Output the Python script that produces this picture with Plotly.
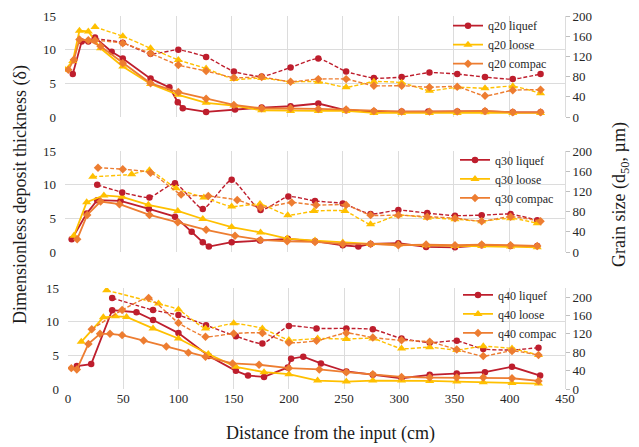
import plotly.graph_objects as go

# ---------------- data ----------------
# q20 panel
q20_liquef_thk_x = [7, 15, 21, 27, 42, 52, 77, 94, 101.5, 106, 127, 153, 177, 203, 228, 253, 278, 303, 327, 353, 378, 403, 428]
q20_liquef_thk = [6.4, 11.2, 11.2, 11.8, 9.7, 8.7, 5.7, 4.4, 2.2, 1.3, 0.75, 1.1, 1.4, 1.6, 2.0, 1.0, 0.8, 0.8, 0.8, 0.8, 0.85, 0.7, 0.7]
q20_loose_thk_x = [0, 7, 13, 21, 32, 52, 77, 102, 127, 152, 177, 203, 228, 253, 278, 303, 328, 353, 378, 403, 428]
q20_loose_thk = [7.0, 8.3, 12.8, 12.7, 10.2, 7.5, 4.9, 3.3, 2.1, 1.7, 1.0, 0.9, 0.9, 0.9, 0.6, 0.6, 0.6, 0.6, 0.7, 0.6, 0.6]
q20_compac_thk_x = [3, 8, 13, 21, 32, 52, 77, 102, 127, 152, 177, 203, 228, 253, 278, 303, 328, 353, 378, 403, 428]
q20_compac_thk = [7.0, 8.5, 11.5, 11.4, 10.5, 8.0, 5.0, 3.7, 2.7, 1.8, 1.3, 1.3, 1.2, 1.1, 0.9, 0.8, 0.8, 0.8, 0.9, 0.7, 0.7]
q20_grain_x = [27, 52, 77, 102, 127, 152, 177, 203, 228, 253, 278, 303, 328, 353, 378, 403, 428]
q20_liquef_d50 = [155, 147, 125, 133, 119, 90, 80, 98, 116, 90, 77, 79, 88, 85, 79, 75, 85]
q20_loose_d50 = [178, 160, 136, 113, 96, 75, 77, 70, 70, 59, 70, 68, 52, 59, 57, 61, 47]
q20_compac_d50 = [152, 146, 126, 103, 91, 78, 79, 70, 75, 75, 62, 62, 59, 60, 42, 53, 54]

# q30 panel
q30_liquef_thk_x = [6, 19.5, 29, 50, 75.5, 99, 114, 124, 129.5, 150, 175.5, 200.5, 225, 250, 264, 275, 300, 325, 351, 375, 401, 425]
q30_liquef_thk = [1.9, 5.7, 7.7, 7.6, 6.4, 5.25, 3.0, 1.45, 0.8, 1.45, 1.7, 1.95, 1.6, 1.0, 0.8, 1.2, 1.3, 0.75, 0.7, 1.0, 0.9, 0.9]
q30_loose_thk_x = [8, 19.5, 35, 51.5, 75, 101.5, 124, 150, 176, 200, 225, 250, 275, 300, 325, 351, 375, 401, 425]
q30_loose_thk = [2.4, 7.4, 8.4, 8.2, 7.0, 6.1, 4.9, 3.7, 2.9, 2.0, 1.7, 1.4, 1.2, 1.1, 1.0, 0.9, 0.9, 0.8, 0.7]
q30_compac_thk_x = [11, 20, 32, 49, 76, 101.5, 127, 153, 176, 200, 225, 250, 275, 300, 325, 351, 375, 401, 425]
q30_compac_thk = [1.9, 5.5, 7.5, 7.1, 5.5, 4.4, 3.3, 2.4, 1.8, 1.6, 1.5, 1.2, 1.2, 1.0, 1.1, 1.0, 1.1, 1.0, 0.9]
q30_liquef_d50_x = [29, 51.5, 76, 99, 124, 150, 176, 201, 225, 250, 275, 300, 326, 351, 375, 401, 425]
q30_liquef_d50 = [133, 118, 108, 136, 85, 143, 83, 110, 101, 96, 75, 83, 77, 72, 73, 75, 63]
q30_loose_d50_x = [25, 60, 76, 100, 125, 150, 175.5, 200.5, 224, 252, 275, 300, 326, 351, 375, 401, 425]
q30_loose_d50 = [149, 154, 162, 126, 108, 90, 95, 73, 81, 81, 55, 73, 68, 65, 61, 67, 57]
q30_compac_d50_x = [29.7, 52, 77, 104.5, 129, 155, 176, 204, 226, 253, 275, 300, 326, 351, 375, 401, 428]
q30_compac_d50 = [167, 164, 157, 114, 111, 103, 88, 98, 93, 93, 73, 73, 70, 67, 61, 70, 61]

# q40 panel
q40_liquef_thk_x = [8, 21, 40, 62, 77, 100, 127.5, 152, 163, 177.5, 199, 202, 213, 229, 252, 276, 302, 327.5, 352, 377.5, 402, 427.5]
q40_liquef_thk = [3.4, 3.7, 11.7, 11.4, 10.25, 8.3, 4.9, 2.7, 2.0, 1.8, 3.2, 4.5, 4.8, 3.8, 2.6, 2.1, 1.6, 2.1, 2.3, 2.5, 3.3, 2.0]
q40_loose_thk_x = [12, 32, 43, 53, 77, 100, 127, 152, 177.5, 200, 226, 252, 276, 302, 327.5, 352, 376, 402, 426]
q40_loose_thk = [7.0, 10.65, 10.8, 10.7, 9.0, 7.5, 5.2, 3.3, 2.5, 2.2, 1.25, 1.1, 1.25, 1.25, 1.2, 1.1, 1.0, 0.9, 0.8]
q40_compac_thk_x = [3, 8, 18.5, 29, 38, 49, 68.5, 89, 109, 124.5, 149, 173, 200, 227.5, 252, 276, 302, 327.5, 352, 376, 402, 426]
q40_compac_thk = [3.1, 2.9, 6.7, 8.2, 8.2, 8.0, 7.2, 6.3, 5.4, 4.8, 3.8, 3.6, 3.1, 2.9, 2.5, 2.2, 1.8, 1.7, 1.7, 1.7, 1.6, 1.2]
q40_liquef_d50_x = [40, 77, 100, 125, 152, 176, 200, 225, 252, 276, 302, 327.5, 352, 376, 402, 426]
q40_liquef_d50 = [198, 172, 161, 139, 115, 99, 137, 132, 132, 130, 110, 101, 105, 87, 85, 90]
q40_loose_d50_x = [35, 82, 100, 124.5, 150, 176, 200, 226, 252, 276, 302, 327.5, 352, 376, 402, 426]
q40_loose_d50 = [215, 186, 173, 132, 143, 132, 107, 110, 109, 110, 88, 91, 85, 93, 88, 74]
q40_compac_d50_x = [21.5, 49, 73, 100, 124.5, 150, 176, 200, 225, 252, 276, 302, 327.5, 352, 376, 402, 426]
q40_compac_d50 = [130, 172, 198, 144, 114, 121, 122, 101, 105, 122, 112, 106, 103, 86, 72, 83, 74]

x_ticks = [0, 50, 100, 150, 200, 250, 300, 350, 400, 450]
left_ticks = [0, 5, 10, 15]
right_ticks = [0, 40, 80, 120, 160, 200]

# ---------------- styles ----------------
C_LIQ = "#BE1E2D"
C_LOO = "#FFC000"
C_COM = "#ED7D31"
FONT = "Liberation Serif, Times New Roman, DejaVu Serif, serif"
styles = {
    "liquef": dict(color=C_LIQ, symbol="circle", size=6.5),
    "loose": dict(color=C_LOO, symbol="triangle-up", size=8),
    "compac": dict(color=C_COM, symbol="diamond", size=6.5),
}

fig = go.Figure()

panels = [
    ("q20", "x", "y", "y2", "legend", [
        ("liquef", q20_liquef_thk_x, q20_liquef_thk, q20_grain_x, q20_liquef_d50),
        ("loose", q20_loose_thk_x, q20_loose_thk, q20_grain_x, q20_loose_d50),
        ("compac", q20_compac_thk_x, q20_compac_thk, q20_grain_x, q20_compac_d50),
    ]),
    ("q30", "x2", "y3", "y4", "legend2", [
        ("liquef", q30_liquef_thk_x, q30_liquef_thk, q30_liquef_d50_x, q30_liquef_d50),
        ("loose", q30_loose_thk_x, q30_loose_thk, q30_loose_d50_x, q30_loose_d50),
        ("compac", q30_compac_thk_x, q30_compac_thk, q30_compac_d50_x, q30_compac_d50),
    ]),
    ("q40", "x3", "y5", "y6", "legend3", [
        ("liquef", q40_liquef_thk_x, q40_liquef_thk, q40_liquef_d50_x, q40_liquef_d50),
        ("loose", q40_loose_thk_x, q40_loose_thk, q40_loose_d50_x, q40_loose_d50),
        ("compac", q40_compac_thk_x, q40_compac_thk, q40_compac_d50_x, q40_compac_d50),
    ]),
]

for q, xa, ya, ya2, leg, series in panels:
    # dashed grain-size traces first (drawn beneath)
    for kind, tx, ty, gx, gy in series:
        st = styles[kind]
        fig.add_trace(go.Scatter(
            x=gx, y=gy, xaxis=xa, yaxis=ya2, mode="lines+markers",
            line=dict(color=st["color"], width=1.4, dash="4px,2px", shape="spline", smoothing=0.5),
            marker=dict(color=st["color"], symbol=st["symbol"], size=st["size"]),
            showlegend=False, hoverinfo="skip"))
    for kind, tx, ty, gx, gy in series:
        st = styles[kind]
        fig.add_trace(go.Scatter(
            x=tx, y=ty, xaxis=xa, yaxis=ya, mode="lines+markers",
            name=f"{q} {kind}", legend=leg,
            line=dict(color=st["color"], width=1.8),
            marker=dict(color=st["color"], symbol=st["symbol"], size=st["size"])))

# ---------------- layout ----------------
H_PLOT = 373.0
def dom(top_px, bot_px):
    return [(389 - bot_px) / H_PLOT, (389 - top_px) / H_PLOT]

grid_c = "#dcdcdc"
tick_font = dict(family=FONT, size=13, color="#262626")

def xaxis(show_labels, domain=(0, 1)):
    return dict(range=[0, 450], tickvals=x_ticks, showgrid=True, gridcolor=grid_c,
                zeroline=False, showline=False, showticklabels=show_labels,
                tickfont=tick_font, ticks="", domain=list(domain), fixedrange=True,
                automargin=False)

def yleft(domain, anchor):
    return dict(range=[0, 15], tickvals=left_ticks, showgrid=True, gridcolor=grid_c,
                zeroline=False, showline=False, tickfont=tick_font, ticks="",
                ticklabelstandoff=8, domain=domain, anchor=anchor, automargin=False)

def yright(domain, anchor, overlay, rmax):
    return dict(range=[0, rmax], tickvals=right_ticks, showgrid=False, zeroline=False,
                showline=True, linecolor=grid_c, ticks="outside", ticklen=4, tickcolor="#bfbfbf",
                tickfont=tick_font, side="right", overlaying=overlay, anchor=anchor, domain=domain,
                automargin=False)

d1 = dom(16, 117)
d2 = dom(151, 252)
d3 = dom(288, 389)

legend_common = dict(xanchor="left", yanchor="top", bgcolor="rgba(0,0,0,0)",
                     font=dict(family=FONT, size=12, color="#262626"), itemwidth=30,
                     tracegroupgap=0)

fig.update_layout(
    width=639, height=447, autosize=False,
    margin=dict(l=65, r=74, t=16, b=58, autoexpand=False),
    paper_bgcolor="white", plot_bgcolor="white",
    font=dict(family=FONT, color="#262626"),
    xaxis=dict(xaxis(False), anchor="y"),
    xaxis2=dict(xaxis(False), anchor="y3"),
    xaxis3=dict(xaxis(True, (0.006, 1)), anchor="y5"),
    yaxis=yleft(d1, "x"),
    yaxis2=yright(d1, "x", "y", 200),
    yaxis3=yleft(d2, "x2"),
    yaxis4=yright(d2, "x2", "y3", 200),
    yaxis5=yleft(d3, "x3"),
    yaxis6=yright(d3, "x3", "y5", 220),
    legend=dict(legend_common, x=0.766, y=1.013),
    legend2=dict(legend_common, x=0.78, y=0.653),
    legend3=dict(legend_common, x=0.786, y=0.291),
    annotations=[
        dict(text="Dimensionless deposit thickness (δ)", xref="paper", yref="paper",
             x=(20 - 65) / 500, y=(389 - 195) / H_PLOT, xanchor="center", yanchor="middle",
             textangle=-90, showarrow=False, font=dict(family=FONT, size=18, color="#1a1a1a")),
        dict(text="Grain size (d<sub>50</sub>, µm)", xref="paper", yref="paper",
             x=(620 - 65) / 500, y=(389 - 195) / H_PLOT, xanchor="center", yanchor="middle",
             textangle=-90, showarrow=False, font=dict(family=FONT, size=18, color="#1a1a1a")),
        dict(text="Distance from the input (cm)", xref="paper", yref="paper",
             x=(330 - 65) / 500, y=(389 - 433) / H_PLOT, xanchor="center", yanchor="middle",
             showarrow=False, font=dict(family=FONT, size=18, color="#1a1a1a")),
    ],
)

fig.write_html("out.html", config={"displayModeBar": False},
               post_script="document.body.style.margin='0';document.body.style.overflow='hidden';")
